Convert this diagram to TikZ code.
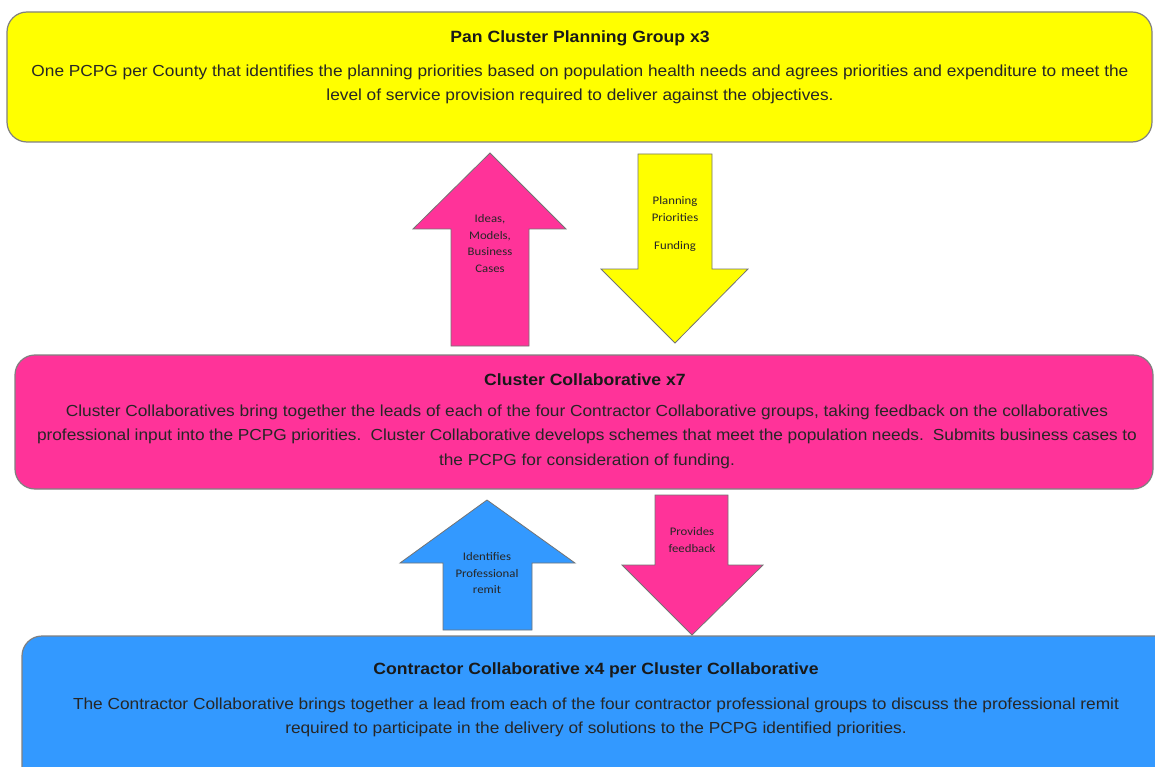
\documentclass[tikz,border=0pt]{standalone}
\usepackage{fontspec}
\setmainfont[FakeStretch=1.08]{Liberation Sans}
\newfontfamily\arrowfont[FakeStretch=1.1]{Carlito}
\begin{document}
\begin{tikzpicture}[x=1pt,y=-1pt,
  box/.style={draw=black!50, line width=1.2pt, rounded corners=20pt},
  blockarrow/.style={draw=black!55, line width=0.8pt},
  title/.style={font=\fontsize{16.3}{19}\selectfont\bfseries, text=black!90, anchor=center},
  body/.style={font=\fontsize{16}{24.5}\selectfont, align=center, text=black!85, anchor=north},
  atext/.style={font=\arrowfont\fontsize{11.6}{16.5}\selectfont, align=center, text=black!85, anchor=north}]
\definecolor{pcyellow}{RGB}{255,255,0}
\definecolor{pcpink}{RGB}{255,51,153}
\definecolor{pcblue}{RGB}{51,153,255}
\useasboundingbox (0,0) rectangle (1155,767);
\fill[white] (0,0) rectangle (1155,767);
% boxes
\draw[box, fill=pcyellow] (7,12) rectangle (1152,142);
\draw[box, fill=pcpink] (15,355) rectangle (1153,489);
\draw[box, fill=pcblue] (22,636) rectangle (1175,800);
% texts of boxes
\node[title] (t1) at (580,38) {Pan Cluster Planning Group x3};
\node[body] (b1) at (580,61) {One PCPG per County that identifies the planning priorities based on population health needs and agrees priorities and expenditure to meet the\\level of service provision required to deliver against the objectives.};
\node[title] (t2) at (585,380) {Cluster Collaborative x7};
\node[body] (b2) at (587,401) {Cluster Collaboratives bring together the leads of each of the four Contractor Collaborative groups, taking feedback on the collaboratives\\\makebox[1100pt][s]{professional input into the PCPG priorities.\ \ Cluster Collaborative develops schemes that meet the population needs.\ \ Submits business cases to}\\the PCPG for consideration of funding.};
\node[title] (t3) at (596,670) {Contractor Collaborative x4 per Cluster Collaborative};
\node[body] (b3) at (596,694) {The Contractor Collaborative brings together a lead from each of the four contractor professional groups to discuss the professional remit\\required to participate in the delivery of solutions to the PCPG identified priorities.};
% block arrows
\draw[blockarrow, fill=pcpink] (451,346) -- (451,229) -- (413,229) -- (490,153) -- (566,229) -- (529,229) -- (529,346) -- cycle;
\draw[blockarrow, fill=pcyellow] (638,154) -- (712,154) -- (712,269) -- (748,269) -- (675,343) -- (601,269) -- (638,269) -- cycle;
\draw[blockarrow, fill=pcblue] (443,630) -- (443,563) -- (400,563) -- (487,500) -- (575,563) -- (532,563) -- (532,630) -- cycle;
\draw[blockarrow, fill=pcpink] (655,495) -- (728,495) -- (728,565) -- (763,565) -- (692,635) -- (622,565) -- (655,565) -- cycle;
% arrow texts
\node[atext] (a1) at (490,211) {Ideas,\\Models,\\Business\\Cases};
\node[atext] (a2) at (675,193) {Planning\\Priorities\\[1pt]\ \\[-6pt]Funding};
\node[atext] (a3) at (487,549) {Identifies\\Professional\\remit};
\node[atext] (a4) at (692,524) {Provides\\feedback};
\end{tikzpicture}
\end{document}
